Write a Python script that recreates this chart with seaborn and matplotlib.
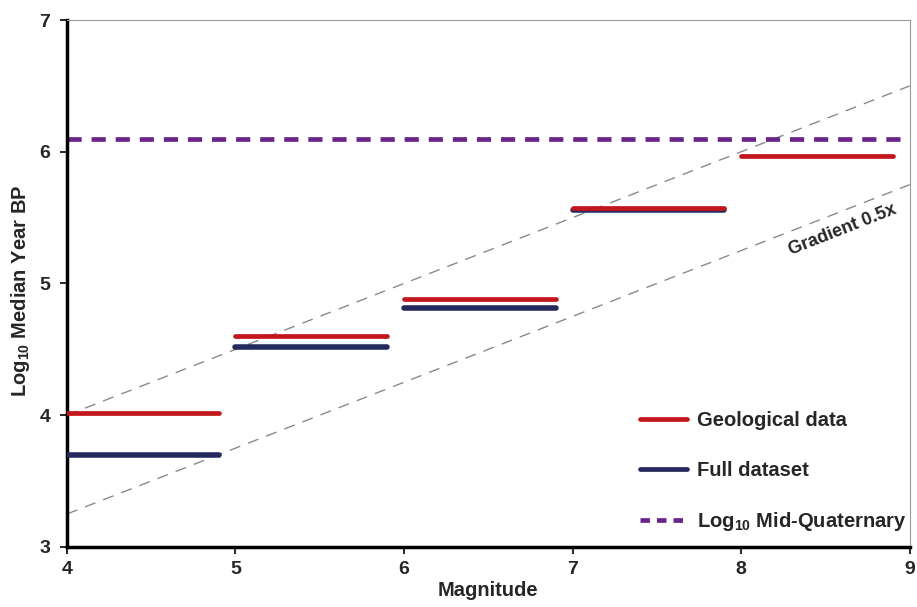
import matplotlib
matplotlib.use("Agg")
import matplotlib.pyplot as plt
import seaborn as sns
import pandas as pd
import numpy as np
from matplotlib.lines import Line2D

# Data
bin_starts = [4, 5, 6, 7, 8]
bin_ends = [4.9, 5.9, 6.9, 7.9, 8.9]
geological = [4.02, 4.60, 4.88, 5.57, 5.97]
full_bin_starts = [4, 5, 6, 7]
full_bin_ends = [4.9, 5.9, 6.9, 7.9]
full_dataset = [3.70, 4.52, 4.81, 5.56]
mid_quaternary = 6.10
gradient = 0.5
guide_intercepts = [2.0, 1.25]
xticks = [4, 5, 6, 7, 8, 9]
yticks = [3, 4, 5, 6, 7]

sns.set_style("white")
plt.rcParams['font.family'] = ['Liberation Sans', 'DejaVu Sans']
plt.rcParams['font.weight'] = 'bold'
plt.rcParams['mathtext.fontset'] = 'custom'
plt.rcParams['mathtext.bf'] = 'Liberation Sans:bold'
plt.rcParams['mathtext.rm'] = 'Liberation Sans:bold'

fig = plt.figure(figsize=(9.17, 6.07), dpi=100)
ax = fig.add_axes([0.073, 0.099, 0.919, 0.868])

RED = "#C3161C"
NAVY = "#242A5E"
PURPLE = "#6B2489"
GRAY = "#8A8A8A"

# Guide lines
gx = np.array([4, 9])
for b in guide_intercepts:
    ax.plot(gx, gradient * gx + b, color=GRAY, lw=1.0, dashes=(8, 6), zorder=1)

ax.axhline(mid_quaternary, color=PURPLE, lw=3.4, dashes=(3.0, 2.1), zorder=2)

rows = []
for i, (s, e, v) in enumerate(zip(full_bin_starts, full_bin_ends, full_dataset)):
    rows += [dict(x=s, y=v, series="Full dataset", bin=i), dict(x=e, y=v, series="Full dataset", bin=i)]
for i, (s, e, v) in enumerate(zip(bin_starts, bin_ends, geological)):
    rows += [dict(x=s, y=v, series="Geological data", bin=i), dict(x=e, y=v, series="Geological data", bin=i)]
df = pd.DataFrame(rows)

for name, col, lw in [("Full dataset", NAVY, 4.0), ("Geological data", RED, 3.4)]:
    sub = df[df.series == name]
    sns.lineplot(data=sub, x="x", y="y", units="bin", estimator=None, color=col,
                 lw=lw, solid_capstyle="round", ax=ax, legend=False, zorder=3)

ax.set_xlim(4, 9)
ax.set_ylim(3, 7)
ax.set_xticks(xticks)
ax.set_yticks(yticks)
ax.set_xticklabels([str(t) for t in xticks], fontsize=14, fontweight='bold')
ax.set_yticklabels([str(t) for t in yticks], fontsize=14, fontweight='bold')
ax.tick_params(axis='x', direction='out', length=5, width=1.2, color='black', bottom=True, pad=5)
ax.tick_params(axis='y', direction='out', length=5, width=1.2, color='black', left=True, pad=7)
ax.set_xlabel("Magnitude", fontsize=14.5, fontweight='bold', labelpad=2)
ax.set_ylabel(r"Log$_{\mathbf{10}}$ Median Year BP", fontsize=14.5, fontweight='bold')
ax.yaxis.set_label_coords(-0.042, 0.486)

for s in ['left', 'bottom']:
    ax.spines[s].set_color('black')
    ax.spines[s].set_linewidth(2.5)
for s in ['top', 'right']:
    ax.spines[s].set_color('#999999')
    ax.spines[s].set_linewidth(0.8)

ax.text(8.6, 5.41, "Gradient 0.5x", rotation=21.5, ha='center', va='center',
        fontsize=13, fontweight='bold', rotation_mode='anchor')

handles = [Line2D([], [], color=RED, lw=3.4),
           Line2D([], [], color=NAVY, lw=3.4),
           Line2D([], [], color=PURPLE, lw=3.4, dashes=(2, 1.5))]
labels = ["Geological data", "Full dataset", r"Log$_{\mathbf{10}}$ Mid-Quaternary"]
ax.legend(handles, labels, loc='lower right', bbox_to_anchor=(1.013, 0.0), frameon=False,
          prop={'weight': 'bold', 'size': 14.5}, handlelength=2.35, labelspacing=1.5,
          handletextpad=0.5, borderaxespad=0.3)

fig.savefig("out.png", dpi=100)
